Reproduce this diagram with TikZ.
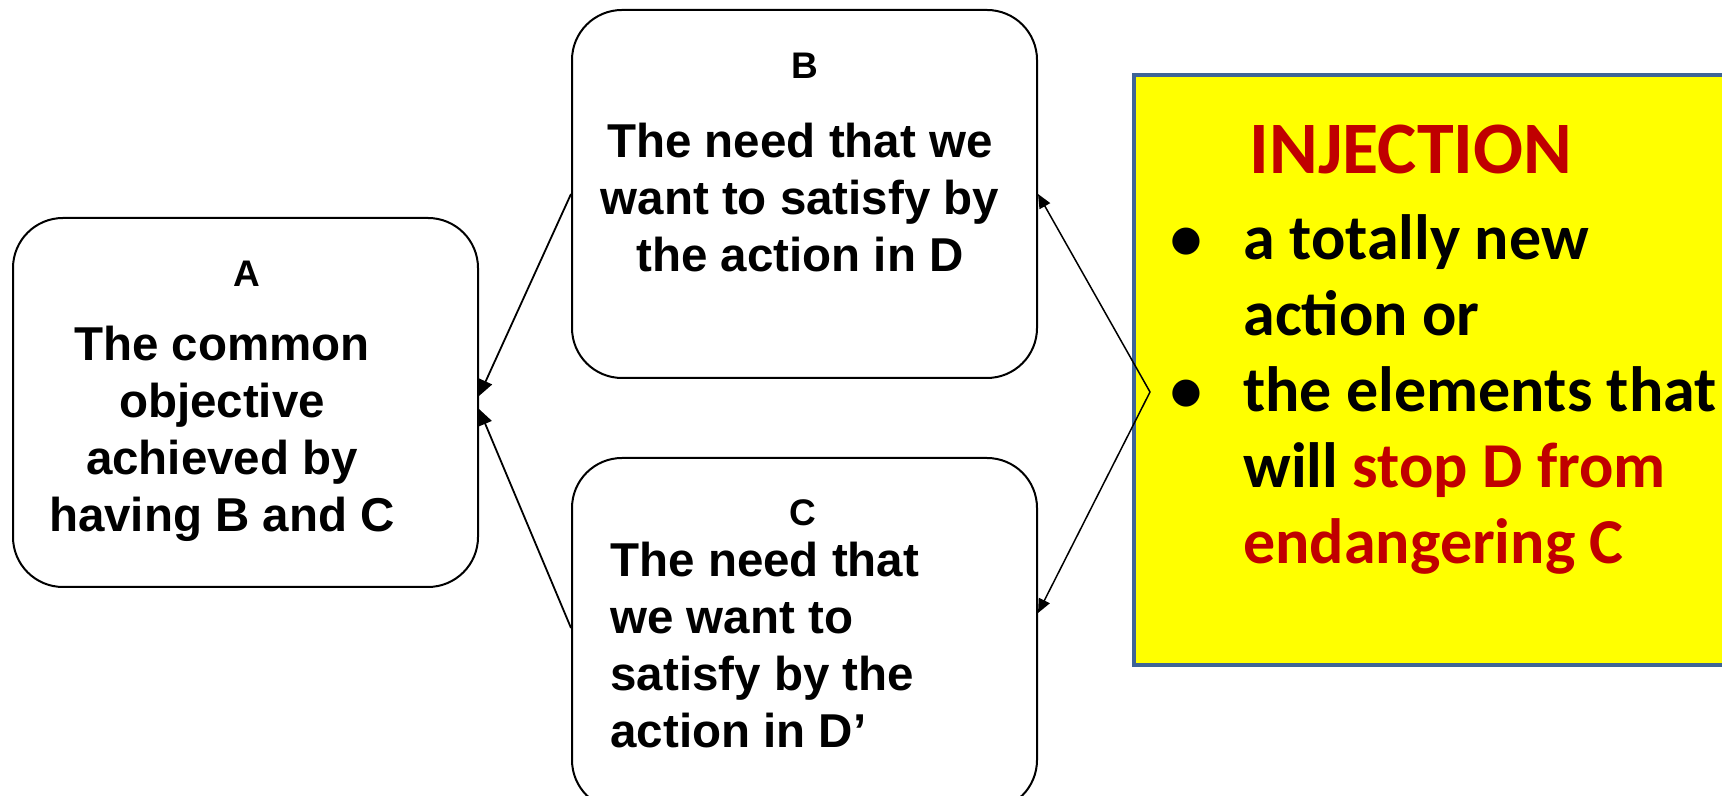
\documentclass[tikz,border=0pt]{standalone}
\usepackage{fontspec}
\setmainfont{Liberation Sans}
\newfontfamily\calibri{Carlito}
\usetikzlibrary{arrows.meta}
\definecolor{frameblue}{HTML}{3E6497}
\definecolor{injred}{HTML}{C00000}
\definecolor{injyellow}{HTML}{FFFF00}

\begin{document}
\begin{tikzpicture}[x=0.5pt,y=0.5pt,
  box/.style={draw, rounded corners=25pt, line width=1pt, minimum width=232.5pt, minimum height=184pt, inner sep=0pt},
  lbl/.style={font=\fontsize{18.5}{22}\bfseries\selectfont, anchor=base, inner sep=0pt},
  body/.style={font=\fontsize{23.75}{28.5}\bfseries\selectfont, inner sep=0pt},
  tip/.style={-{Triangle[length=8pt,width=7pt]}, line width=0.9pt}]
\useasboundingbox (0,0) rectangle (1722,796);
\node[box, minimum height=184.5pt] (A) at (245.5,393.5){};
\node[box] (B) at (804.5,602){};
\node[box, minimum height=176pt] (C) at (804.5,162){};
\node[draw=frameblue, fill=injyellow, line width=2.2pt, minimum width=323pt, minimum height=295pt, inner sep=0pt] (D) at (1457,426){};

% texts sit on the baseline of their last line
\node[lbl] (Alabel) at (247,509){A};
\node[body, align=center, anchor=base] (Atext) at (222,264){The common\\objective\\achieved by\\having B and C};
\node[lbl] (Blabel) at (805,717){B};
\node[body, align=center, anchor=base] (Btext) at (800,524){The need that we\\want to satisfy by\\the action in D};
\node[lbl] (Clabel) at (803,270){C};
\node[body, align=left, anchor=base west] (Ctext) at (610,48){The need that\\we want to\\satisfy by the\\action in D’};

\node[font=\calibri\fontsize{37}{44}\bfseries\selectfont, text=injred, anchor=base, inner sep=0pt] (title) at (1411,622){INJECTION};
\node[font=\calibri\fontsize{32}{38}\bfseries\selectfont, anchor=base west, inner sep=0pt] (list) at (1170,536){%
  \begin{tabular}[t]{@{}p{36.5pt}@{}l@{}}
  \textbullet & a totally new\\
  & action or\\
  \textbullet & the elements that\\
  & will \textcolor{injred}{stop D from}\\
  & \textcolor{injred}{endangering C}
  \end{tabular}};

\coordinate (kink) at (1150,404);
\draw[tip] (B.west) -- ([yshift=3.25pt]A.east);
\draw[tip] ([yshift=3pt]C.west) -- ([yshift=-3.25pt]A.east);
\draw[{Triangle[length=7pt,width=6pt]}-{Triangle[length=7pt,width=6pt]}, line width=0.75pt] (B.east) -- (kink) -- ([yshift=10.5pt]C.east);
\end{tikzpicture}
\end{document}
